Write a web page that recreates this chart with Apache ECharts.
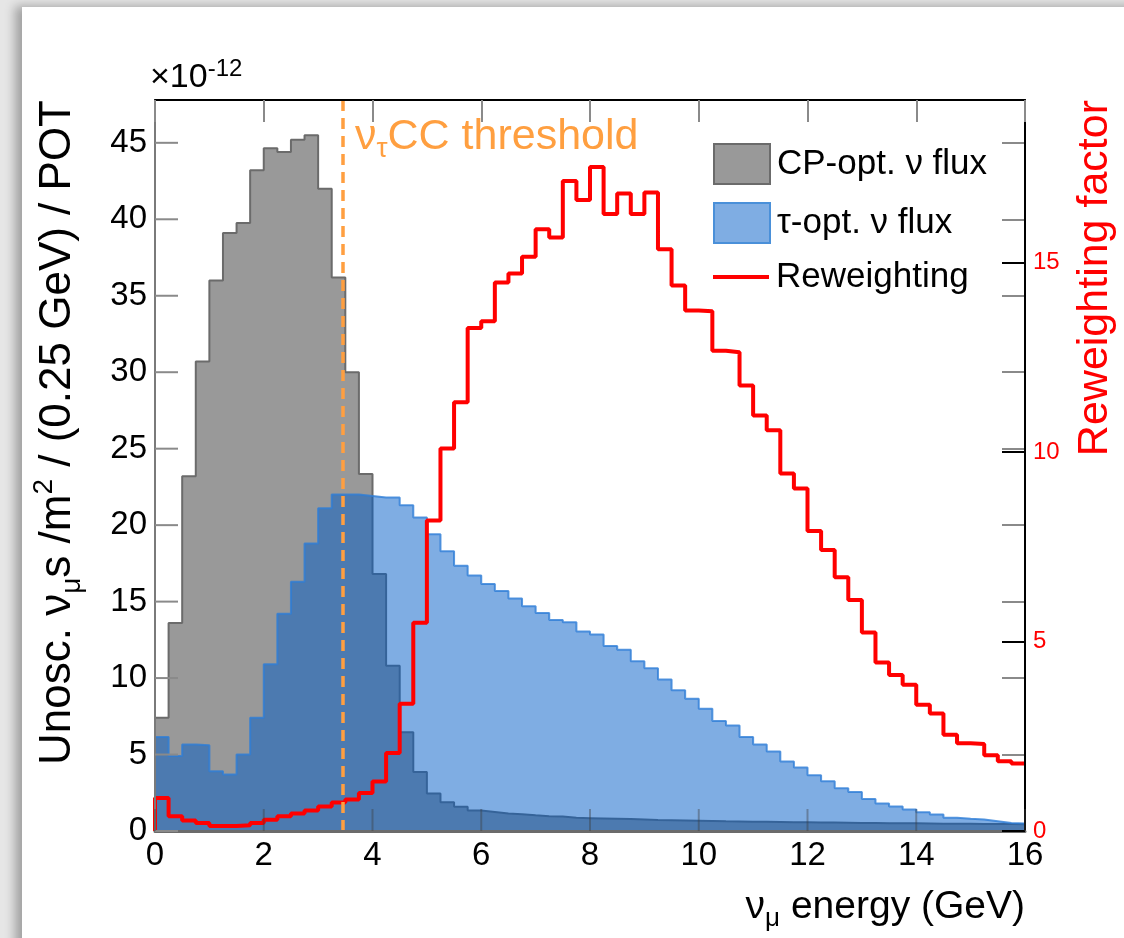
<!DOCTYPE html>
<html><head><meta charset="utf-8">
<script src="https://cdn.jsdelivr.net/npm/echarts@6/dist/echarts.min.js"></script>
<style>
html,body{margin:0;padding:0;width:1124px;height:938px;overflow:hidden;background:#e6e6e6;}
#panel{position:absolute;left:22px;top:7px;width:1140px;height:960px;background:#fff;box-shadow:-7px -1px 10px rgba(0,0,0,0.30);}
#chart{position:absolute;left:0;top:0;width:1124px;height:938px;}
</style></head><body><div id="panel"></div><div id="chart"></div>
<script>
// ---- data (64 bins of 0.25 GeV, 0-16 GeV) ----
const binWidth = 0.25;
const cpFlux = [7.4,13.6,23.2,30.7,36.0,39.1,39.75,43.2,44.65,44.4,45.2,45.5,42.0,36.2,30.0,23.35,
  16.8,10.8,6.45,3.85,2.45,1.88,1.58,1.34,1.25,1.14,1.1,1.03,0.97,0.95,0.86,0.84,
  0.82,0.8,0.78,0.75,0.72,0.71,0.69,0.67,0.65,0.63,0.62,0.61,0.6,0.59,0.58,0.57,
  0.56,0.55,0.54,0.53,0.52,0.51,0.5,0.5,0.49,0.48,0.47,0.47,0.46,0.45,0.45,0.44];
const tauFlux = [6.15,4.9,5.65,5.6,3.9,3.7,5.0,7.4,10.9,14.2,16.3,18.8,21.1,22.0,22.0,21.9,
  21.8,21.8,21.3,20.5,19.4,18.3,17.35,16.7,16.15,15.7,15.2,14.7,14.25,13.8,13.65,13.05,
  12.85,12.1,11.85,11.1,10.65,9.9,9.2,8.65,8.0,7.2,6.9,6.15,5.65,5.2,4.55,4.15,
  3.65,3.25,2.8,2.55,2.1,1.8,1.6,1.4,1.22,1.08,0.87,0.8,0.75,0.64,0.53,0.49];
const reweight = [0.87,0.39,0.28,0.21,0.13,0.13,0.15,0.21,0.3,0.39,0.46,0.54,0.65,0.75,0.83,1.0,
  1.31,2.06,3.36,5.5,8.2,10.1,11.32,13.28,13.46,14.48,14.72,15.16,15.89,15.67,17.16,16.66,
  17.53,16.29,16.83,16.29,16.86,15.36,14.4,13.74,13.72,12.68,12.64,11.76,10.97,10.58,9.44,9.04,
  7.92,7.42,6.7,6.1,5.24,4.45,4.12,3.86,3.33,3.1,2.54,2.32,2.3,2.0,1.84,1.78];
const tauThreshold = 3.46;
const seriesNames = ['CP-opt. ν flux', 'τ-opt. ν flux', 'Reweighting'];
const xRange = [0, 16], xStep = 2;
const yLeftRange = [0, 47.8], yLeftStep = 5;
const yRightRange = [0, 19.3], yRightStep = 5;
const xTickValues = [0, 2, 4, 6, 8, 10, 12, 14, 16];
const yLeftTickValues = [0, 5, 10, 15, 20, 25, 30, 35, 40, 45];

const FONT = "'Liberation Sans', Arial, Helvetica, sans-serif";

function stepData(vals) {
  const d = [[0, 0]];
  vals.forEach((v, i) => d.push([i * binWidth, v]));
  d.push([vals.length * binWidth, vals[vals.length - 1]]);
  return d;
}

function tickAxis(pos, range, step, color, z, len) {
  return {type: 'value', position: pos, offset: 0, min: range[0], max: range[1], interval: step, z: z,
    axisLine: {show: false, onZero: false},
    axisTick: {show: true, inside: true, length: len, lineStyle: {color: color, width: 2}},
    axisLabel: {show: false}, splitLine: {show: false}};
}

// inward tick marks along the left and bottom frame, placed through the axes' scales
function tickSeries(values, horizontal, color, len) {
  return {type: 'custom', coordinateSystem: 'cartesian2d', xAxisIndex: 0, yAxisIndex: 0,
    silent: true, clip: false, z: 12,
    data: values.map(v => horizontal ? [xRange[0], v] : [v, yLeftRange[0]]),
    renderItem: function (params, api) {
      const p = api.coord([api.value(0), api.value(1)]);
      return {type: 'line',
        shape: horizontal ? {x1: p[0], y1: p[1], x2: p[0] + len, y2: p[1]}
                          : {x1: p[0], y1: p[1], x2: p[0], y2: p[1] - len},
        style: {stroke: color, lineWidth: 2}};
    }};
}

const chart = echarts.init(document.getElementById('chart'), null, {renderer: 'canvas'});
const option = {
  animation: false,
  backgroundColor: 'transparent',
  textStyle: {fontFamily: FONT},
  grid: {left: 155, right: 99, top: 100, bottom: 107, containLabel: false, outerBoundsMode: 'none'},
  xAxis: [
    {type: 'value', position: 'bottom', min: xRange[0], max: xRange[1], interval: xStep, z: 10,
     axisLine: {show: true, onZero: false, lineStyle: {color: '#6b6b6b', width: 3}},
     axisTick: {show: false},
     axisLabel: {fontSize: 33, color: '#000', margin: 8, fontFamily: FONT},
     splitLine: {show: false}},
    {type: 'value', position: 'top', min: xRange[0], max: xRange[1], interval: xStep, z: 10,
     axisLine: {show: true, onZero: false, lineStyle: {color: '#000', width: 2}},
     axisTick: {show: true, inside: true, length: 22, lineStyle: {color: '#8a8a8a', width: 2}},
     axisLabel: {show: false}, splitLine: {show: false}}
  ],
  yAxis: [
    {type: 'value', position: 'left', min: yLeftRange[0], max: yLeftRange[1], interval: yLeftStep, z: 10,
     axisLine: {show: true, onZero: false, lineStyle: {color: '#7a7a7a', width: 2}},
     axisTick: {show: false},
     axisLabel: {fontSize: 33, color: '#000', margin: 8, showMaxLabel: false, fontFamily: FONT},
     splitLine: {show: false}},
    {type: 'value', position: 'right', min: yRightRange[0], max: yRightRange[1], interval: yRightStep, z: 10,
     axisLine: {show: true, onZero: false, lineStyle: {color: '#000', width: 2}},
     axisTick: {show: true, inside: true, length: 23, lineStyle: {color: '#000', width: 2}},
     axisLabel: {fontSize: 24, color: '#ff0000', margin: 8, showMaxLabel: false, fontFamily: FONT},
     splitLine: {show: false}},
    tickAxis('right', yLeftRange, yLeftStep, '#8a8a8a', 9, 23)
  ],
  legend: [
    {orient: 'vertical', left: 708, top: 138, itemWidth: 56, itemHeight: 40, itemGap: 17,
     selectedMode: false,
     textStyle: {fontSize: 35, color: '#000', fontFamily: FONT, padding: [0, 0, 0, 2]},
     data: [
       {name: seriesNames[0], icon: 'rect', itemStyle: {color: '#999999', borderColor: '#6b6b6b', borderWidth: 2}},
       {name: seriesNames[1], icon: 'rect', itemStyle: {color: 'rgba(0,92,200,0.5)', borderColor: '#4a90d9', borderWidth: 2}}
     ]},
    {orient: 'vertical', left: 708, top: 252, itemWidth: 56, itemHeight: 4,
     selectedMode: false,
     textStyle: {fontSize: 35, lineHeight: 40, color: '#000', fontFamily: FONT, padding: [0, 0, 0, 2]},
     data: [{name: seriesNames[2], icon: 'rect', itemStyle: {color: '#ff0000', borderWidth: 0}}]}
  ],
  series: [
    {name: seriesNames[0], type: 'line', step: 'end', xAxisIndex: 0, yAxisIndex: 0,
     data: stepData(cpFlux), showSymbol: false, symbol: 'none', z: 2,
     itemStyle: {color: '#999999'},
     lineStyle: {color: '#6b6b6b', width: 2},
     areaStyle: {color: '#999999', opacity: 1}},
    {name: seriesNames[1], type: 'line', step: 'end', xAxisIndex: 0, yAxisIndex: 0,
     data: stepData(tauFlux), showSymbol: false, symbol: 'none', z: 3,
     itemStyle: {color: 'rgba(0,92,200,0.5)'},
     lineStyle: {color: 'rgba(45,125,215,0.8)', width: 2},
     areaStyle: {color: 'rgba(0,92,200,0.5)', opacity: 1}},
    {name: seriesNames[2], type: 'line', step: 'end', xAxisIndex: 0, yAxisIndex: 1,
     data: stepData(reweight), showSymbol: false, symbol: 'none', z: 4,
     itemStyle: {color: '#ff0000'},
     lineStyle: {color: '#ff0000', width: 4},
     markLine: {silent: true, symbol: ['none', 'none'], label: {show: false},
       lineStyle: {color: '#ff9f40', type: [11, 7], width: 3.5},
       data: [{xAxis: tauThreshold}]}},
    tickSeries(yLeftTickValues, true, '#8a8a8a', 23),
    tickSeries(xTickValues, false, 'rgba(60,60,60,0.4)', 22)
  ],
  graphic: [
    {type: 'text', x: 58, y: 100, rotation: Math.PI / 2, z: 10,
     style: {text: 'Unosc. ν{sub|μ}s /m{sup|2} / (0.25 GeV) / POT', fill: '#000',
       fontSize: 44, fontFamily: FONT, lineHeight: 56, align: 'right', verticalAlign: 'middle',
       rich: {sub: {fontSize: 28, fontFamily: FONT, lineHeight: 28, verticalAlign: 'bottom'},
              sup: {fontSize: 28, fontFamily: FONT, lineHeight: 36, verticalAlign: 'top'}}}},
    {type: 'text', x: 1095, y: 100, rotation: Math.PI / 2, z: 10,
     style: {text: 'Reweighting factor', fill: '#ff0000', fontSize: 43, fontFamily: FONT,
       align: 'right', verticalAlign: 'middle'}},
    {type: 'text', x: 1025, y: 907, z: 10,
     style: {text: 'ν{sub|μ} energy (GeV)', fill: '#000', fontSize: 39, fontFamily: FONT, lineHeight: 50,
       align: 'right', verticalAlign: 'middle',
       rich: {sub: {fontSize: 26, fontFamily: FONT, lineHeight: 26, verticalAlign: 'bottom'}}}},
    {type: 'text', x: 150, y: 99, z: 10,
     style: {text: '×10{sup|-12}', fill: '#000', fontSize: 34, fontFamily: FONT, lineHeight: 42,
       align: 'left', verticalAlign: 'bottom',
       rich: {sup: {fontSize: 24, fontFamily: FONT, lineHeight: 28, verticalAlign: 'top'}}}},
    {type: 'text', x: 355, y: 137, z: 10,
     style: {text: 'ν{sub|τ}CC threshold', fill: '#ff9f40', fontSize: 43, fontFamily: FONT, lineHeight: 52,
       align: 'left', verticalAlign: 'middle',
       rich: {sub: {fontSize: 28, fontFamily: FONT, lineHeight: 28, verticalAlign: 'bottom', fill: '#ff9f40'}}}}
  ]
};
chart.setOption(option);
</script></body></html>
